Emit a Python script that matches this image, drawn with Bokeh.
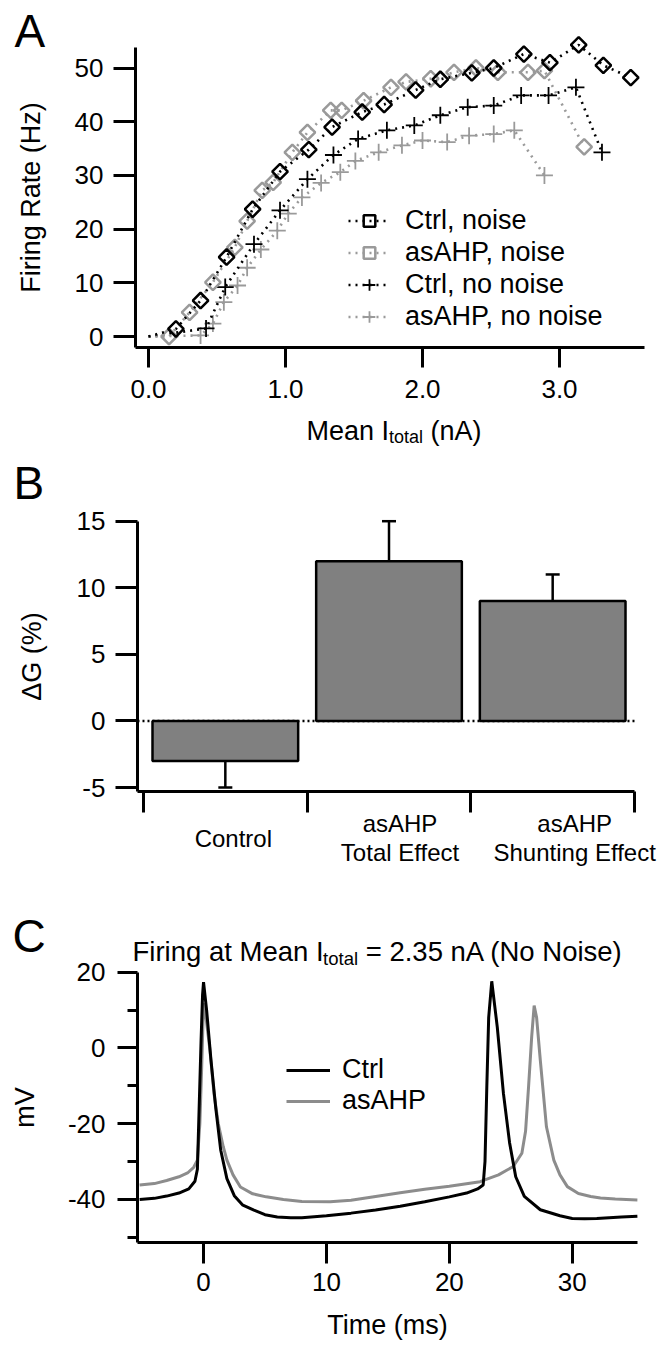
import numpy as np
from bokeh.plotting import figure
from bokeh.models import (ColumnDataSource, Label, Legend, LegendItem, FixedTicker, Whisker, TeeHead,
                          Range1d, PrintfTickFormatter)
from bokeh.layouts import column
from bokeh.embed import file_html
from bokeh.resources import INLINE

FONT = "Liberation Sans"
BLACK = "#000000"
GRAY = "#9a9a9a"

# ---------------- Panel A data (Mean I_total in nA, firing rate in Hz) ----------------
origin_I = 0.0
origin_R = 0.0
ctrl_noise_I = [0.20, 0.38, 0.57, 0.76, 0.96, 1.17, 1.34, 1.56, 1.72, 1.95, 2.13, 2.36, 2.52, 2.74, 2.93, 3.14, 3.32, 3.52]
ctrl_noise_R = [1.4, 6.7, 14.8, 23.7, 30.7, 34.8, 39.0, 41.8, 43.2, 45.9, 47.9, 49.1, 50.0, 52.6, 51.0, 54.3, 50.5, 48.2]
ahp_noise_I = [0.15, 0.30, 0.47, 0.63, 0.72, 0.83, 0.91, 1.05, 1.16, 1.33, 1.41, 1.57, 1.77, 1.88, 2.06, 2.23, 2.39, 2.55, 2.77, 2.89, 3.18]
ahp_noise_R = [0.0, 4.5, 10.1, 16.6, 21.5, 27.2, 28.7, 34.3, 38.0, 42.1, 42.1, 43.9, 46.4, 47.4, 48.0, 49.2, 50.0, 49.2, 49.2, 49.5, 35.3]
ctrl_nonoise_I = [0.42, 0.56, 0.77, 0.96, 1.16, 1.35, 1.53, 1.74, 1.94, 2.13, 2.33, 2.52, 2.72, 2.92, 3.12, 3.31]
ctrl_nonoise_R = [1.5, 9.2, 17.2, 23.5, 29.3, 33.8, 36.8, 38.4, 39.3, 41.2, 42.7, 43.0, 44.9, 44.9, 46.4, 34.3]
ahp_nonoise_I = [0.38, 0.47, 0.55, 0.65, 0.72, 0.82, 0.94, 1.02, 1.12, 1.26, 1.40, 1.51, 1.68, 1.85, 2.00, 2.18, 2.34, 2.52, 2.67, 2.89]
ahp_nonoise_R = [0.2, 2.4, 6.4, 9.5, 12.8, 16.2, 19.7, 22.9, 25.9, 28.6, 30.6, 32.7, 34.3, 35.6, 36.5, 36.2, 37.4, 37.7, 38.4, 30.0]
a_xticks = [0.0, 1.0, 2.0, 3.0]
a_yticks = [0, 10, 20, 30, 40, 50]

# ---------------- Panel B data ----------------
categories = ["Control", "asAHP\nTotal Effect", "asAHP\nShunting Effect"]
delta_g = [-3.0, 12.0, 9.0]
delta_g_err = [2.0, 3.0, 2.0]
b_yticks = [-5, 0, 5, 10, 15]

# ---------------- Panel C data (time in ms, membrane potential in mV) ----------------
ctrl_t = [-5.2, -4.0, -3.0, -2.0, -1.2, -0.7, -0.5, -0.35, -0.2, -0.08, 0.0, 0.25, 0.6, 1.0, 1.4, 1.9, 2.5, 3.2, 4.1,
          5.0, 6.0, 7.1, 8.0, 10.0, 12.0, 14.0, 16.0, 18.0, 20.0, 21.4, 22.3, 22.75, 22.9, 23.05, 23.2, 23.45,
          23.9, 24.4, 24.9, 25.4, 26.1, 27.4, 29.0, 30.0, 31.0, 32.0, 33.0, 34.0, 35.3]
ctrl_v = [-40.0, -39.7, -39.1, -38.3, -37.2, -35.2, -32.0, -15.0, 2.0, 14.0, 17.4, 10.0, -3.0, -16.0, -27.0, -34.5,
          -39.0, -41.5, -42.8, -44.0, -44.6, -44.8, -44.8, -44.3, -43.6, -42.8, -41.8, -40.6, -39.3, -38.3, -37.2,
          -36.2, -30.0, -10.0, 8.0, 17.6, 5.5, -12.0, -25.0, -34.0, -39.2, -42.7, -44.3, -45.0, -45.1, -45.0,
          -44.8, -44.6, -44.4]
ahp_t = [-5.2, -4.0, -3.0, -2.0, -1.3, -0.8, -0.5, -0.3, -0.15, 0.0, 0.2, 0.5, 0.85, 1.2, 1.6, 1.9, 2.4, 3.0, 4.0,
         5.1, 6.5, 8.0, 10.3, 12.0, 14.0, 16.0, 18.0, 20.0, 22.5, 24.0, 25.2, 25.9, 26.2, 26.45, 26.7, 26.9, 27.1,
         27.4, 27.9, 28.5, 29.0, 29.6, 30.5, 31.5, 32.3, 33.5, 35.3]
ahp_v = [-36.2, -35.8, -35.0, -34.0, -33.0, -31.5, -29.6, -20.0, -5.0, 11.8, 8.0, 0.0, -12.0, -20.0, -26.0, -29.6,
         -33.5, -36.7, -38.5, -39.3, -40.0, -40.5, -40.6, -40.2, -39.2, -38.2, -37.3, -36.5, -35.3, -33.5, -31.3,
         -27.8, -22.0, -10.0, 3.0, 11.2, 8.0, -3.2, -20.8, -29.6, -33.5, -36.6, -38.4, -39.2, -39.6, -39.9, -40.1]
c_xticks = [0, 10, 20, 30]
c_yticks = [-40, -20, 0, 20]
c_yminor = [-50, -30, -10, 10]


def style_axis(ax, tick_out, standoff, label_standoff, fmt="%d"):
    ax.axis_line_width = 3
    ax.axis_line_color = BLACK
    ax.major_tick_line_width = 3
    ax.major_tick_line_color = BLACK
    ax.major_tick_out = tick_out
    ax.major_tick_in = 0
    ax.minor_tick_line_width = 3
    ax.minor_tick_line_color = BLACK
    ax.minor_tick_out = 10
    ax.minor_tick_in = 0
    ax.formatter = PrintfTickFormatter(format=fmt)
    ax.major_label_text_font = FONT
    ax.major_label_text_font_size = "26px"
    ax.major_label_text_color = BLACK
    ax.major_label_standoff = standoff
    ax.axis_label_text_font = FONT
    ax.axis_label_text_font_size = "27px"
    ax.axis_label_text_font_style = "normal"
    ax.axis_label_text_color = BLACK
    ax.axis_label_standoff = label_standoff


def base_fig(h, xr, yr):
    # the frame fills the whole canvas; axes are pinned with fixed_location
    p = figure(width=660, height=h, x_range=xr, y_range=yr, output_backend="svg", toolbar_location=None,
               min_border=0, min_border_left=0, min_border_right=0, min_border_top=0, min_border_bottom=0)
    p.title.visible = False
    p.grid.visible = False
    p.outline_line_color = None
    p.background_fill_color = "white"
    p.border_fill_color = "white"
    return p


def txt(p, x, y, s, size="27px", align="left", baseline="alphabetic", xu="screen", dx=0):
    p.add_layout(Label(x=x, y=y, x_units=xu, y_units="screen", x_offset=dx, text=s, text_font=FONT,
                       text_font_size=size, text_color=BLACK, text_align=align, text_baseline=baseline))


# ======================= Panel A (canvas 660 x 455) =======================
HA = 455
pA = base_fig(HA, Range1d(-1.0803, 3.7372), Range1d((336 - HA) / 5.37, 336 / 5.37))
pA.xaxis.fixed_location = -2.05
pA.xaxis.bounds = (-0.095, 3.62)
pA.yaxis.fixed_location = -0.095
pA.yaxis.bounds = (-2.05, 53.9)
pA.xaxis.ticker = FixedTicker(ticks=a_xticks)
pA.yaxis.ticker = FixedTicker(ticks=a_yticks)
pA.yaxis.axis_label = "Firing Rate (Hz)"
style_axis(pA.xaxis[0], 20, 12, 5, fmt="%.1f")
style_axis(pA.yaxis[0], 22, 10, 26)

series = [
    ("asAHP, no noise", ahp_nonoise_I, ahp_nonoise_R, GRAY, "cross", 17, 1.8),
    ("Ctrl, no noise", ctrl_nonoise_I, ctrl_nonoise_R, BLACK, "cross", 17, 1.8),
    ("asAHP, noise", ahp_noise_I, ahp_noise_R, GRAY, "square", 11, 2.5),
    ("Ctrl, noise", ctrl_noise_I, ctrl_noise_R, BLACK, "square", 11, 2.5),
]
legend_map = {}
for name, xs, ys, col, mk, sz, lw in series:
    lr = pA.line([origin_I] + xs, [origin_R] + ys, line_color=col, line_width=2.6, line_dash="2 5")
    kw = dict(angle=np.pi / 4) if mk == "square" else {}
    mr = pA.scatter(xs, ys, marker=mk, size=sz, fill_color=None, line_color=col, line_width=lw, **kw)
    legend_map[name] = [lr, mr]

legA = Legend(items=[LegendItem(label=n, renderers=legend_map[n]) for n in
                     ["Ctrl, noise", "asAHP, noise", "Ctrl, no noise", "asAHP, no noise"]],
              location=(348, HA - 331.5), glyph_width=42, glyph_height=29, spacing=1, padding=0, margin=0,
              label_standoff=15, label_text_font=FONT, label_text_font_size="27px", label_text_color=BLACK,
              border_line_color=None, background_fill_alpha=0)
pA.add_layout(legA)

# x-axis title with subscript (screen units from canvas bottom-left)
txt(pA, 306, HA - 430, "Mean I")
txt(pA, 306 + 82.5, HA - 436, "total", size="18px")
txt(pA, 306 + 82.5 + 34 + 7.5, HA - 430, "(nA)")
txt(pA, 14, HA - 30, "A", size="46px", baseline="middle")

# ======================= Panel B (canvas 660 x 415) =======================
HB = 870 - HA
pB = base_fig(HB, Range1d(-0.8737, 3.1588), Range1d(-11.233, 15 + (520.7 - HA) / 13.315))
b_xlo = -0.0367
b_ylo = -5.3
pB.xaxis.fixed_location = b_ylo
pB.xaxis.bounds = (b_xlo, float(len(categories)))
pB.yaxis.fixed_location = b_xlo
pB.yaxis.bounds = (b_ylo, 15.0)
centers = [i + 0.5 for i in range(len(categories))]
srcB = ColumnDataSource(dict(x=centers, top=delta_g,
                             upper=[v + e for v, e in zip(delta_g, delta_g_err)],
                             lower=[v - e for v, e in zip(delta_g, delta_g_err)]))
pB.line([b_xlo, float(len(categories))], [0, 0], line_color=BLACK, line_width=2.5, line_dash="2 3")
pB.vbar(x="x", top="top", bottom=0, width=0.89, source=srcB, fill_color="#808080", line_color=BLACK,
        line_width=2.5)
pB.add_layout(Whisker(source=srcB, base="x", upper="upper", lower="lower", line_color=BLACK, line_width=2.5,
                      upper_head=TeeHead(size=14, line_color=BLACK, line_width=2.5),
                      lower_head=TeeHead(size=14, line_color=BLACK, line_width=2.5)))
pB.xaxis.ticker = FixedTicker(ticks=list(range(len(categories) + 1)))
pB.yaxis.ticker = FixedTicker(ticks=b_yticks)
pB.yaxis.axis_label = "ΔG (%)"
style_axis(pB.xaxis[0], 21, 5, 5)
pB.xaxis.major_label_overrides = {i: "" for i in range(len(categories) + 1)}
style_axis(pB.yaxis[0], 22, 10, 27)
label_shift = [8, 11, 22]  # category names sit slightly right of the bar centres in the original
for cx, cat, dx in zip(centers, categories, label_shift):
    parts = cat.split("\n")
    if len(parts) == 1:
        txt(pB, cx, 32, parts[0], size="24px", align="center", baseline="middle", xu="data", dx=dx)
    else:
        txt(pB, cx, 47, parts[0], size="24px", align="center", baseline="middle", xu="data", dx=dx)
        txt(pB, cx, 18, parts[1], size="24px", align="center", baseline="middle", xu="data", dx=dx)
txt(pB, 13, HB - (482 - HA), "B", size="46px", baseline="middle")

# ======================= Panel C (canvas 660 x 477) =======================
HC = 477
pC = base_fig(HC, Range1d(-16.52, 37.18), Range1d(-79.07, 46.85))
c_xlo = -5.37
c_ylo = -51.3
pC.xaxis.fixed_location = c_ylo
pC.xaxis.bounds = (c_xlo, 35.3)
pC.yaxis.fixed_location = c_xlo
pC.yaxis.bounds = (c_ylo, 20.0)
pC.xaxis.ticker = FixedTicker(ticks=c_xticks)
pC.yaxis.ticker = FixedTicker(ticks=c_yticks, minor_ticks=c_yminor)
pC.xaxis.axis_label = "Time (ms)"
pC.yaxis.axis_label = "mV"
style_axis(pC.xaxis[0], 21, 10, 15)
style_axis(pC.yaxis[0], 20, 12, 25)
r_ahp = pC.line(ahp_t, ahp_v, line_color="#8c8c8c", line_width=3)
r_ctrl = pC.line(ctrl_t, ctrl_v, line_color=BLACK, line_width=3)
legC = Legend(items=[LegendItem(label="Ctrl", renderers=[r_ctrl]), LegendItem(label="asAHP", renderers=[r_ahp])],
              location=(286, 231), glyph_width=44, glyph_height=28, spacing=0, padding=0, margin=0,
              label_standoff=12, label_text_font=FONT, label_text_font_size="27px", label_text_color=BLACK,
              border_line_color=None, background_fill_alpha=0)
pC.add_layout(legC)
txt(pC, 132, HC - 81, "Firing at Mean I", size="27.5px")
txt(pC, 132 + 190.6, HC - 88, "total", size="18.5px")
txt(pC, 132 + 190.6 + 35 + 7.6, HC - 81, "= 2.35 nA (No Noise)", size="27.5px")
txt(pC, 12, HC - 65, "C", size="46px", baseline="middle")

layout = column(pA, pB, pC, spacing=0)
open("out.html", "w").write(file_html(layout, INLINE))
